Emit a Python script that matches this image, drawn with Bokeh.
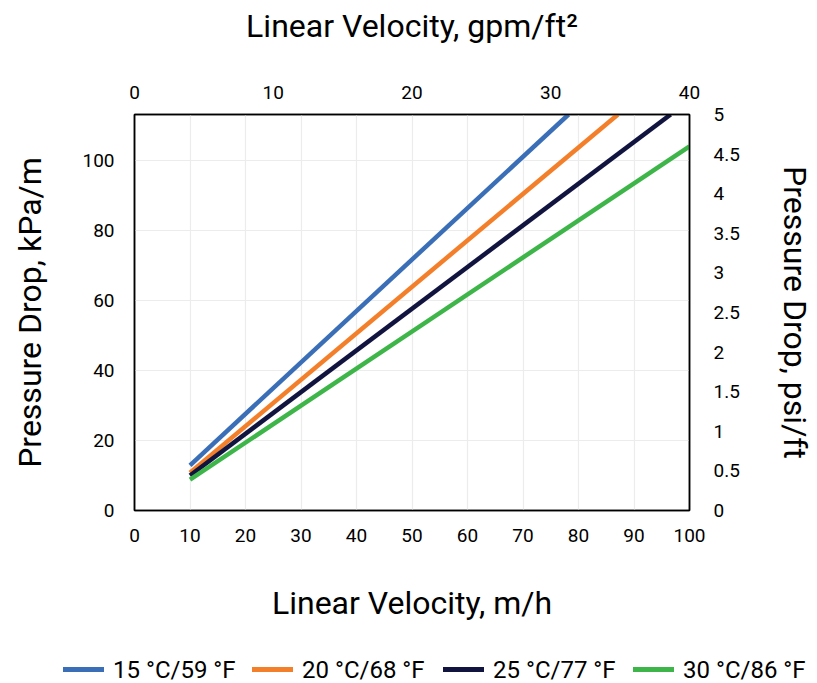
from bokeh.plotting import figure
from bokeh.layouts import column
from bokeh.models import (LinearAxis, Range1d, FixedTicker, Div,
                          CustomJSTickFormatter)
from bokeh.embed import file_html
from bokeh.resources import INLINE

# ---- data ----
series_names = ["15 °C/59 °F", "20 °C/68 °F", "25 °C/77 °F", "30 °C/86 °F"]
series_colors = ["#3A6FB7", "#F47F2A", "#10143F", "#3EB549"]
velocity_15 = [10, 78.2]
dp_15 = [12.9, 113.1]
velocity_20 = [10, 87.1]
dp_20 = [10.8, 113.1]
velocity_25 = [10, 96.6]
dp_25 = [10.0, 113.1]
velocity_30 = [10, 100]
dp_30 = [8.8, 104.0]

x_ticks = [0, 10, 20, 30, 40, 50, 60, 70, 80, 90, 100]
y_ticks = [0, 20, 40, 60, 80, 100]
top_ticks = [0, 10, 20, 30, 40]
right_ticks = [0, 0.5, 1, 1.5, 2, 2.5, 3, 3.5, 4, 4.5, 5]

FONT = "Roboto"
TICK_SIZE = "19px"
LABEL_SIZE = "32px"

p = figure(frame_width=555, frame_height=396,
           output_backend="svg", toolbar_location=None,
           x_range=Range1d(0, 100), y_range=Range1d(0, 113.1),
           min_border=0,
           x_axis_location="below", y_axis_location="left")
p.margin = (3, 0, 0, 8)
p.extra_x_ranges = {"gpm": Range1d(0, 40)}
p.extra_y_ranges = {"psi": Range1d(0, 5)}

p.outline_line_color = "black"
p.outline_line_width = 1.5
p.background_fill_color = "white"
p.border_fill_color = "white"

def style_axis(ax, ticks, label, standoff, label_standoff):
    ax.ticker = FixedTicker(ticks=ticks)
    ax.axis_label = label
    ax.axis_label_text_font = FONT
    ax.axis_label_text_font_size = LABEL_SIZE
    ax.axis_label_text_font_style = "normal"
    ax.axis_label_text_color = "black"
    ax.major_label_text_font = FONT
    ax.major_label_text_font_size = TICK_SIZE
    ax.major_label_text_color = "black"
    ax.major_label_standoff = standoff
    ax.axis_label_standoff = label_standoff
    ax.major_tick_line_color = None
    ax.minor_tick_line_color = None
    ax.axis_line_color = "black"
    ax.axis_line_width = 1.5

style_axis(p.xaxis[0], x_ticks, "Linear Velocity, m/h", 12, 39)
style_axis(p.yaxis[0], y_ticks, "Pressure Drop, kPa/m", 14, 30)

top_axis = LinearAxis(x_range_name="gpm")
style_axis(top_axis, top_ticks, "Linear Velocity, gpm/ft²", 10, 38)
p.add_layout(top_axis, "above")

right_axis = LinearAxis(y_range_name="psi")
style_axis(right_axis, right_ticks, "Pressure Drop, psi/ft", 18, 33)
right_axis.formatter = CustomJSTickFormatter(code="return String(Math.round(tick*10)/10);")
p.add_layout(right_axis, "right")

p.xgrid.ticker = FixedTicker(ticks=x_ticks)
p.ygrid.ticker = FixedTicker(ticks=y_ticks)
p.xgrid.grid_line_color = "#ececec"
p.ygrid.grid_line_color = "#ececec"
p.xgrid.grid_line_width = 1.2
p.ygrid.grid_line_width = 1.2

xs = [velocity_15, velocity_20, velocity_25, velocity_30]
ys = [dp_15, dp_20, dp_25, dp_30]
for name, color, x, y in zip(series_names, series_colors, xs, ys):
    p.line(x, y, line_color=color, line_width=4.5)

# ---- legend strip below the chart (HTML) ----
swatch_left = [63, 252, 443, 633]
parts = []
for name, color, left in zip(series_names, series_colors, swatch_left):
    parts.append(
        f'<span style="position:absolute;left:{left}px;top:43px;width:41px;'
        f'height:5px;background:{color};"></span>'
        f'<span style="position:absolute;left:{left + 50}px;top:32px;'
        f'line-height:28px;white-space:nowrap;">{name}</span>'
    )
legend_html = (
    '<div style="position:relative;width:801px;height:60px;'
    'font-family:Roboto, sans-serif;font-size:24px;color:#000;">'
    + "".join(parts) + "</div>"
)
legend_div = Div(text=legend_html, width=801, height=60, margin=(0, 0, 0, 0))

layout = column(p, legend_div, spacing=0)
open("out.html", "w").write(file_html(layout, INLINE))
